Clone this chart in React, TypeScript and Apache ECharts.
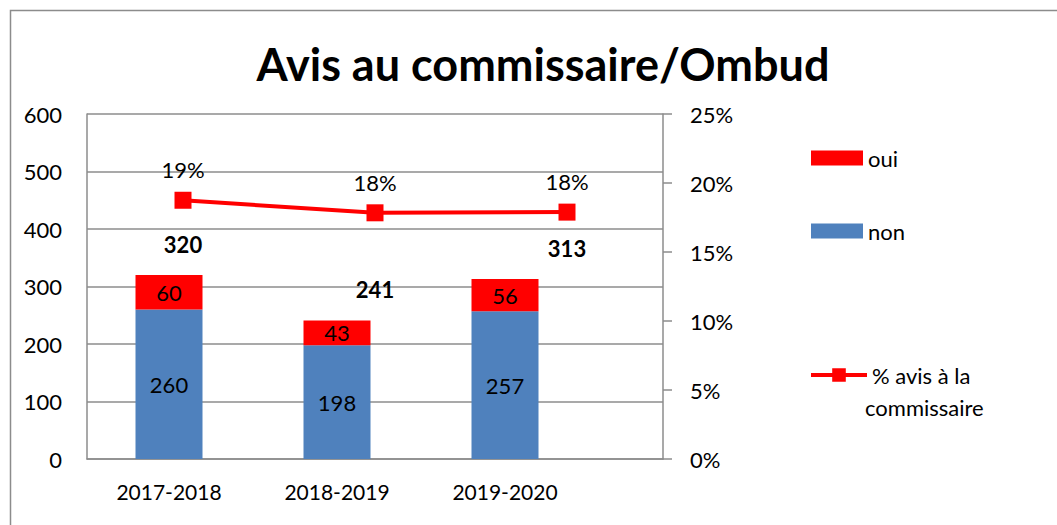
import React, { useEffect, useRef } from "react";
import * as echarts from "echarts";

const categories = ["2017-2018", "2018-2019", "2019-2020"];
const nonValues = [260, 198, 257];
const ouiValues = [60, 43, 56];
const totals = [320, 241, 313];
const pctValues = [0.1875, 0.1784, 0.1789];
const leftTicks = { min: 0, max: 600, interval: 100 };
const rightTicks = { min: 0, max: 0.25, interval: 0.05 };

const FONT = "Lato, 'Open Sans', sans-serif";
const GRAY = "#8c8c8c";
const FS = 22;

export default function App() {
  const ref = useRef<HTMLDivElement>(null);
  useEffect(() => {
    if (!ref.current) return;
    const chart = echarts.init(ref.current, null, { renderer: "svg" });
    const plotTop = 114;
    const plotH = 345;
    chart.setOption({
      animation: false,
      backgroundColor: "#fff",
      textStyle: { fontFamily: FONT, color: "#000" },
      title: {
        text: "Avis au commissaire/Ombud",
        left: 538,
        textAlign: "center",
        top: 36,
        textStyle: { fontFamily: FONT, fontSize: 45, fontWeight: "bold", color: "#000" },
      },
      graphic: [
        {
          type: "rect",
          shape: { x: 10.5, y: 10.5, width: 1100, height: 600 },
          style: { fill: "none", stroke: GRAY, lineWidth: 1.5 },
          silent: true,
          z: -1,
        },
        {
          type: "text",
          left: 865,
          top: 396,
          style: { text: "commissaire", fontFamily: FONT, fontSize: FS, fill: "#000" },
        },
      ],
      legend: [
        {
          left: 806,
          top: 142,
          itemWidth: 52,
          itemHeight: 15,
          data: [{ name: "oui", icon: "rect" }],
          textStyle: { fontFamily: FONT, fontSize: FS, color: "#000" },
        },
        {
          left: 806,
          top: 215,
          itemWidth: 52,
          itemHeight: 15,
          data: [{ name: "non", icon: "rect" }],
          textStyle: { fontFamily: FONT, fontSize: FS, color: "#000" },
        },
        {
          left: 804,
          top: 359,
          itemWidth: 56,
          itemHeight: 17,
          data: ["% avis à la commissaire"],
          formatter: () => "% avis à la",
          lineStyle: { width: 4, color: "#FF0000" },
          textStyle: { fontFamily: FONT, fontSize: FS, color: "#000" },
        },
      ],
      grid: [
        { left: 85, top: plotTop, width: 504, height: plotH },
        { left: 87, top: plotTop, width: 576, height: plotH },
      ],
      xAxis: [
        {
          type: "category",
          gridIndex: 0,
          data: categories,
          axisLine: { show: false },
          axisTick: { show: false },
          axisLabel: { fontFamily: FONT, fontSize: 21, color: "#000", margin: 22 },
        },
        {
          type: "category",
          gridIndex: 1,
          data: categories,
          axisLine: { show: true, lineStyle: { color: GRAY, width: 1.5 } },
          axisTick: { show: false },
          axisLabel: { show: false },
        },
      ],
      yAxis: [
        {
          type: "value",
          gridIndex: 0,
          ...leftTicks,
          show: false,
          splitLine: { show: false },
        },
        {
          type: "value",
          gridIndex: 1,
          position: "left",
          ...leftTicks,
          axisLine: { show: true, lineStyle: { color: GRAY, width: 1.5 } },
          axisTick: { show: false },
          axisLabel: { fontFamily: FONT, fontSize: FS, color: "#000", margin: 25 },
          splitLine: { show: true, lineStyle: { color: GRAY, width: 1.5 } },
        },
        {
          type: "value",
          gridIndex: 1,
          position: "right",
          ...rightTicks,
          axisLine: { show: true, lineStyle: { color: GRAY, width: 1.5 } },
          axisTick: { show: true, length: 9, lineStyle: { color: GRAY, width: 1.5 } },
          axisLabel: {
            fontFamily: FONT,
            fontSize: FS,
            color: "#000",
            margin: 27,
            formatter: (v: number) => Math.round(v * 100) + "%",
          },
          splitLine: { show: false },
        },
      ],
      series: [
        {
          name: "non",
          type: "bar",
          xAxisIndex: 0,
          yAxisIndex: 0,
          stack: "total",
          barWidth: 67,
          data: nonValues,
          itemStyle: { color: "#4F81BD" },
          label: { show: true, position: "inside", fontFamily: FONT, fontSize: FS, color: "#000" },
          z: 3,
        },
        {
          name: "oui",
          type: "bar",
          xAxisIndex: 0,
          yAxisIndex: 0,
          stack: "total",
          barWidth: 67,
          data: ouiValues,
          itemStyle: { color: "#FF0000" },
          label: { show: true, position: "inside", fontFamily: FONT, fontSize: FS, color: "#000" },
          z: 3,
        },
        {
          name: "Total",
          type: "scatter",
          xAxisIndex: 1,
          yAxisIndex: 1,
          data: totals,
          symbolSize: 0,
          itemStyle: { color: "transparent", opacity: 1 },
          label: {
            show: true,
            position: "top",
            distance: 20,
            fontFamily: FONT,
            fontSize: FS,
            fontWeight: "bold",
            color: "#000",
            textBorderWidth: 0,
          },
          z: 4,
        },
        {
          name: "% avis à la commissaire",
          type: "line",
          xAxisIndex: 1,
          yAxisIndex: 2,
          data: pctValues,
          symbol: "rect",
          symbolSize: 17,
          lineStyle: { color: "#FF0000", width: 4 },
          itemStyle: { color: "#FF0000" },
          label: {
            show: true,
            position: "top",
            distance: 11,
            fontFamily: FONT,
            fontSize: FS,
            color: "#000",
            formatter: (p: any) => Math.round(p.value * 100) + "%",
          },
          z: 5,
        },
      ],
    });
    return () => chart.dispose();
  }, []);
  return (
    <div
      ref={ref}
      style={{ position: "fixed", left: 0, top: 0, width: 1057, height: 525 }}
    />
  );
}
